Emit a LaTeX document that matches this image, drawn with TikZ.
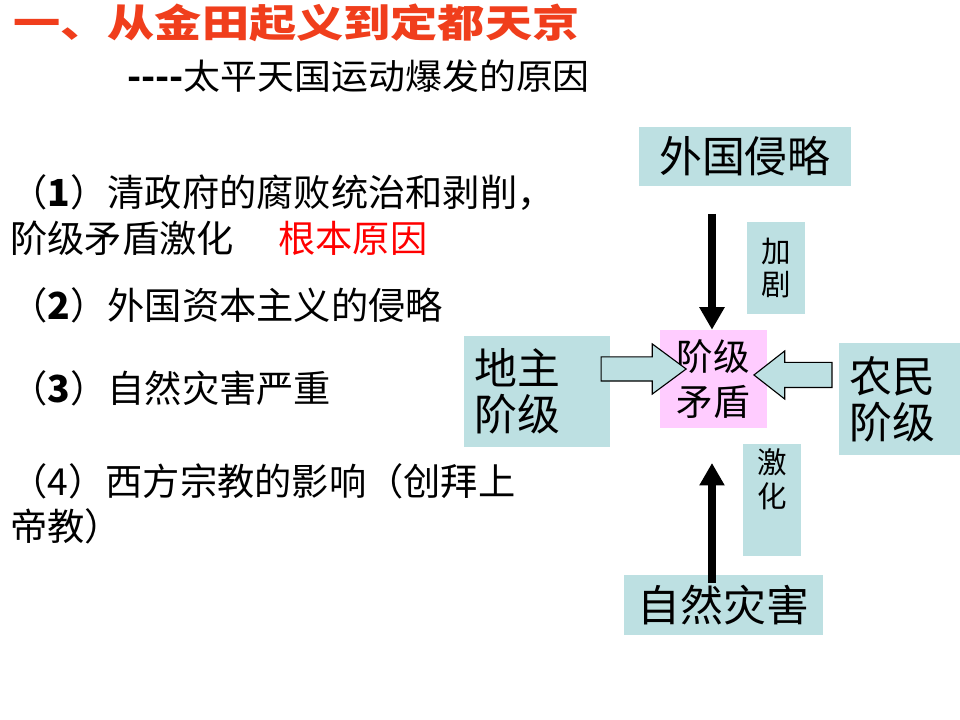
\documentclass[tikz,border=0pt]{standalone}
\usepackage{fontspec}
\setmainfont{Noto Sans CJK SC}
\usetikzlibrary{shapes.arrows, positioning, arrows.meta, calc}
\definecolor{boxteal}{RGB}{189,224,226}
\definecolor{boxpink}{RGB}{255,204,255}
\definecolor{titlered}{RGB}{240,62,28}

\begin{document}
\begin{tikzpicture}[x=0.025cm, y=-0.025cm,
    tag/.style={fill=boxteal, inner sep=0pt},
    big/.style={font=\fontsize{30.5}{33}\selectfont},
    small/.style={font=\fontsize{21}{24}\selectfont},
    item/.style={anchor=west, inner sep=0pt, font=\fontsize{26.5}{30}\selectfont},
    pushed/.style={-{Triangle[width=17pt,length=16pt]}, line width=6.2pt},
    hollow/.style={single arrow, draw=black, fill=boxteal, inner xsep=0pt, line width=0.8pt}]
    \path[fill=white] (0,0) rectangle (960,720);
    % heading
    \node[anchor=west, inner sep=0pt, xscale=1.22, text=titlered, font=\fontsize{27.5}{30}\selectfont\bfseries] (title) at (13,23) {一、从金田起义到定都天京};
    \node[anchor=west, inner sep=0pt, xscale=1.05, font=\fontsize{25}{30}\selectfont] (subtitle) at (127,76) {\textbf{-{}-{}-{}-}太平天国运动爆发的原因};
    % causes
    \node[item] (cause1) at (10,193) {（\textbf{1}）清政府的腐败统治和剥削，};
    \node[item] (cause1b) at (10,238) {阶级矛盾激化};
    \node[item, text=red] (root) at (278,238) {根本原因};
    \node[item] (cause2) at (10,305) {（\textbf{2}）外国资本主义的侵略};
    \node[item] (cause3) at (10,388) {（\textbf{3}）自然灾害严重};
    \node[item] (cause4) at (10,481) {（4）西方宗教的影响（创拜上};
    \node[item] (cause4b) at (10,526) {帝教）};
    % boxes
    \node[tag, big, minimum width=5.3cm, minimum height=1.475cm] (waiguo) at (745,156.5) {外国侵略};
    \node[tag, small, minimum width=1.45cm, minimum height=2.3cm, align=center] (jiaju) at (776,268) {加\\剧};
    \node[fill=boxpink, inner sep=0pt, font=\fontsize{26}{32}\selectfont, minimum width=2.675cm, minimum height=2.45cm, align=center] (maodun) at (713.5,379) {阶级\\矛盾};
    \node[tag, big, inner xsep=0.275cm, text width=3.1cm, minimum height=2.775cm, align=left] (dizhu) at (537,391.5) {地主\\阶级};
    \node[tag, big, inner xsep=0.275cm, text width=2.475cm, minimum height=2.8cm, align=left] (nongmin) at (899.5,399) {农民\\阶级};
    \node[tag, small, minimum width=1.45cm, minimum height=2.8cm, align=center] (jihua) at (772,500) {激\\化\\[0.25cm]\mbox{}};
    \node[tag, big, minimum width=4.975cm, minimum height=1.5cm] (zaihai) at (723.5,605) {自然灾害};
    % block arrows
    \node[hollow, inner ysep=0.2875cm, minimum height=2.125cm, single arrow head extend=0.325cm, single arrow tip angle=73] (leftpush) at (635.5,369) {};
    \node[hollow, shape border rotate=180, inner ysep=0.3cm, minimum height=1.95cm, single arrow head extend=0.2875cm, single arrow tip angle=76] (rightpush) at (801,375) {};
    % thick arrows
    \coordinate (topStart) at (712,214);
    \coordinate (upEnd) at (712,463);
    \draw[pushed] (topStart) -- (topStart |- maodun.north);
    \draw[pushed] ($(zaihai.north -| upEnd)+(0,8)$) -- (upEnd);
\end{tikzpicture}
\end{document}
